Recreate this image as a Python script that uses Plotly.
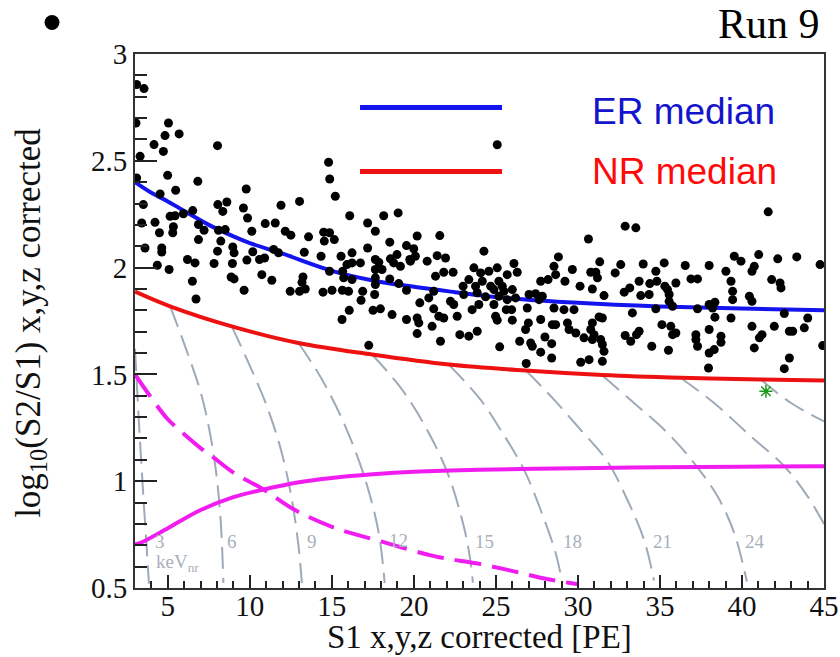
import plotly.graph_objects as go

# ---------------- data ----------------
s1_pts = [
    3.10, 3.55, 3.06, 5.04, 4.83, 5.69, 4.16, 4.73, 3.31, 8.03, 3.10, 4.99, 6.83, 5.48, 4.53, 9.78,
    14.80, 14.87, 15.21, 3.51, 8.05, 8.60, 8.35, 9.61, 9.86, 11.90, 13.03, 16.09, 18.16, 19.04,
    5.14, 5.44, 5.95, 6.52, 3.41, 4.22, 10.94, 11.55, 17.18, 25.08, 41.6,
    5.34, 5.30, 4.49, 6.87, 7.21, 8.09, 8.50, 10.12, 12.16, 12.50, 13.58, 14.50, 14.86, 14.54, 15.15,
    17.65, 20.20, 21.58, 3.61, 4.63, 4.63, 6.87, 8.23, 8.03, 8.96, 9.04, 10.18, 9.82, 10.59, 10.90,
    11.45, 11.75, 13.32, 14.34, 15.56, 16.23, 15.92, 16.23, 16.74, 17.18, 17.65, 17.86, 18.53, 19.55,
    19.99, 20.09, 19.75, 18.97, 18.57, 18.77, 19.18, 19.79, 20.81, 21.42, 21.93, 4.36, 5.08, 6.20,
    6.66, 7.82, 8.94, 10.73, 11.34, 6.50, 8.86, 9.04, 13.24, 13.18, 14.86, 15.66, 15.72, 16.23, 17.65,
    18.06, 17.65, 17.65, 19.08, 18.53, 21.32, 21.82, 22.39, 23.00, 23.35, 23.66, 6.72, 9.65, 12.46,
    13.03, 13.38, 14.46, 15.01, 15.64, 16.02, 16.88, 16.78, 17.61, 19.55, 20.36, 20.91, 21.21, 22.23,
    22.43, 23.04, 23.86, 16.06, 15.62, 17.51, 17.96, 18.67, 19.55, 20.20, 20.30, 20.20, 21.11, 21.21,
    21.52, 21.82, 22.64, 21.62, 22.80, 23.35, 23.86, 23.55, 17.25,
    32.88, 33.53, 30.64, 24.27, 44.76, 41.02, 42.18, 43.34, 39.53, 39.94, 38.00, 36.54, 35.26, 33.98,
    32.61, 31.33, 28.81, 29.66, 28.54, 28.64, 28.18, 27.73, 29.21, 30.13, 30.78, 31.09, 31.19, 30.88,
    31.59, 32.27, 32.82, 33.16, 33.73, 33.83, 34.34, 34.38, 34.75, 34.81, 35.30, 35.46, 35.56, 35.97,
    36.89, 37.29, 35.56, 35.77, 34.75, 33.32, 37.29, 38.00, 38.35, 38.21, 39.02, 39.33, 39.43, 39.43,
    40.75, 40.61, 40.45, 40.61, 41.81, 42.32, 42.38, 42.58, 44.01, 43.80, 43.09, 42.89, 41.97, 41.22,
    41.06, 40.75, 40.61, 39.33, 38.35, 38.31, 38.00, 38.00, 37.96, 37.19, 37.19, 37.29, 38.72, 38.72,
    35.97, 35.77, 35.66, 35.12, 35.52, 34.50, 33.73, 33.57, 33.22, 32.88, 31.49, 31.29, 30.88, 30.78,
    30.98, 30.88, 31.39, 31.49, 31.59, 31.49, 30.68, 30.17, 30.37, 29.87, 29.46, 29.15, 29.36, 29.76,
    28.64, 28.44, 28.54, 27.73, 26.91, 26.98, 26.81, 27.63, 27.42, 27.02, 27.83, 26.00, 26.20, 25.69,
    25.63, 24.98, 25.08, 24.88, 23.96, 25.23, 26.00, 26.45, 27.12, 27.22, 27.73, 27.99, 28.40, 28.40,
    26.85, 42.89, 42.58, 44.92, 23.76, 25.39, 25.18, 25.49, 25.69, 25.08, 24.57, 24.07, 24.17, 26.10,
    26.30, 24.68, 24.88, 25.18, 25.96, 24.37,
]
logr_pts = [
    2.857, 2.838, 2.677, 2.677, 2.618, 2.626, 2.576, 2.544, 2.521, 2.571, 2.420, 2.432, 2.404, 2.362, 2.345, 2.368,
    2.493, 2.415, 2.334, 2.295, 2.295, 2.307, 2.263, 2.279, 2.232, 2.292, 2.310, 2.243, 2.243, 2.256,
    2.240, 2.243, 2.252, 2.267, 2.209, 2.212, 2.206, 2.209, 2.209, 2.575, 2.261,
    2.191, 2.163, 2.163, 2.202, 2.175, 2.175, 2.178, 2.170, 2.170, 2.152, 2.144, 2.166, 2.163, 2.124, 2.131,
    2.170, 2.148, 2.150, 2.092, 2.092, 2.073, 2.131, 2.124, 2.077, 2.097, 2.069, 2.074, 2.035, 2.038, 2.045,
    2.085, 2.069, 2.072, 2.053, 2.053, 2.069, 2.014, 2.022, 2.022, 2.092, 2.038, 2.025, 2.119, 2.103,
    2.088, 2.053, 2.038, 2.061, 2.041, 2.022, 2.006, 2.030, 2.030, 2.056, 2.045, 2.011, 1.991, 2.038,
    2.022, 2.019, 2.019, 1.967, 1.941, 1.936, 1.956, 1.947, 1.956, 1.931, 1.983, 1.983, 1.952, 1.944, 1.991,
    1.991, 1.952, 1.921, 1.925, 1.947, 1.960, 1.978, 1.978, 1.913, 1.944, 1.999, 1.853, 1.894, 1.889,
    1.889, 1.900, 1.885, 1.894, 1.894, 1.889, 1.889, 1.847, 1.874, 1.894, 1.835, 1.858, 1.889, 1.842,
    1.827, 1.874, 1.882, 1.800, 1.757, 1.800, 1.807, 1.780, 1.757, 1.764, 1.741, 1.691, 1.725, 1.807,
    1.772, 1.764, 1.772, 1.655, 1.686, 1.679, 1.702, 1.803, 1.636,
    2.194, 2.186, 2.134, 2.077, 2.014, 2.061, 2.041, 2.050, 2.053, 2.030, 2.010, 2.010, 2.022, 2.017,
    2.014, 2.027, 2.050, 1.991, 2.006, 1.967, 1.944, 1.936, 1.936, 1.913, 1.978, 1.978, 1.952, 1.900,
    1.869, 1.975, 1.885, 1.905, 1.936, 1.869, 1.874, 1.925, 1.983, 1.936, 1.913, 1.897, 1.874, 1.928,
    1.947, 1.947, 1.842, 1.819, 1.807, 1.788, 1.807, 1.827, 1.838, 1.811, 1.983, 1.936, 1.889, 1.850,
    2.006, 1.983, 1.866, 1.842, 1.944, 1.928, 1.905, 1.785, 1.764, 1.718, 1.702, 1.702, 1.725, 1.686,
    1.671, 1.624, 1.725, 1.764, 1.768, 1.616, 1.710, 1.600, 1.530, 1.686, 1.663, 1.632, 1.679, 1.650,
    1.694, 1.686, 1.725, 1.733, 1.613, 1.632, 1.702, 1.686, 1.655, 1.682, 1.764, 1.769, 1.741, 1.710,
    1.686, 1.663, 1.663, 1.640, 1.608, 1.561, 1.569, 1.557, 1.671, 1.694, 1.710, 1.803, 1.741, 1.803,
    1.733, 1.733, 1.811, 1.757, 1.811, 1.741, 1.710, 1.850, 1.878, 1.874, 1.866, 1.897, 1.858, 1.850,
    1.803, 1.772, 1.754, 1.827, 1.827, 1.629, 1.754, 1.655, 1.647, 1.632, 1.604, 1.675, 1.644, 1.577,
    1.551, 1.577, 1.527, 1.635, 1.913, 1.913, 1.936, 1.889, 1.967, 1.999, 1.983, 1.975, 1.936, 2.019,
    1.978, 1.913, 1.897, 1.866, 1.803, 1.863,
]

er_s1 = [3, 4, 5, 6, 7.5, 9, 10, 12, 15, 17.5, 20, 22.5, 25, 30, 35, 40, 45]
er_med = [2.40, 2.35, 2.31, 2.265, 2.20, 2.146, 2.115, 2.065, 1.985, 1.94, 1.91, 1.885, 1.862, 1.835, 1.818, 1.808, 1.80]

nr_s1 = [3, 5.14, 8.9, 12.97, 17.45, 22.13, 26.8, 31.5, 36.3, 41.2, 45]
nr_med = [1.888, 1.819, 1.725, 1.647, 1.593, 1.546, 1.518, 1.497, 1.484, 1.476, 1.472]

mag_solid_s1 = [3, 3.3, 5, 7, 9, 10.9, 13, 15, 17.5, 20, 24, 30, 35, 40, 45]
mag_solid_y = [0.705, 0.71, 0.78, 0.865, 0.925, 0.962, 0.995, 1.015, 1.032, 1.044, 1.054, 1.061, 1.065, 1.068, 1.07]

mag_dash_s1 = [3, 4, 5, 6, 7, 7.8, 9, 10.8, 12.7, 15.2, 18, 21.3, 24, 26.1, 28.1, 30]
mag_dash_y = [1.50, 1.39, 1.29, 1.22, 1.155, 1.11, 1.04, 0.963, 0.867, 0.781, 0.718, 0.648, 0.613, 0.578, 0.542, 0.518]

# keVnr iso-energy contours
c3_s1 = [3.0, 3.15, 3.35, 3.55, 3.72, 3.85]
c3_y = [1.62, 1.40, 1.13, 0.88, 0.68, 0.52]
c6_s1 = [5.14, 6.05, 7.07, 7.78, 8.19, 8.39]
c6_y = [1.819, 1.632, 1.398, 1.132, 0.851, 0.523]
c9_s1 = [8.90, 9.92, 11.04, 11.95, 12.56, 12.97, 13.17]
c9_y = [1.725, 1.554, 1.351, 1.132, 0.914, 0.695, 0.523]
c12_s1 = [12.97, 14.40, 15.82, 17.04, 17.86, 18.22]
c12_y = [1.647, 1.476, 1.257, 1.007, 0.757, 0.523]
c15_s1 = [17.45, 19.28, 20.91, 22.13, 23.04, 23.4, 23.6]
c15_y = [1.593, 1.429, 1.226, 1.023, 0.789, 0.65, 0.525]
c18_s1 = [22.13, 24.06, 25.28, 26.71, 27.8, 28.64, 29.05]
c18_y = [1.546, 1.382, 1.241, 1.054, 0.851, 0.664, 0.523]
c21_s1 = [26.81, 28.54, 30.16, 31.79, 33.01, 34.03, 34.64]
c21_y = [1.520, 1.382, 1.241, 1.093, 0.913, 0.726, 0.535]
c24_s1 = [31.49, 33.42, 35.46, 37.08, 38.51, 39.53, 40.3]
c24_y = [1.495, 1.366, 1.226, 1.085, 0.929, 0.757, 0.53]
c27_s1 = [36.27, 38.3, 40.54, 42.58, 44.0, 45.0]
c27_y = [1.483, 1.366, 1.21, 1.07, 0.929, 0.80]
c30_s1 = [41.15, 42.99, 45.0]
c30_y = [1.476, 1.366, 1.28]

kev_labels = ["3", "6", "9", "12", "15", "18", "21", "24"]
kev_label_s1 = [4.53, 8.94, 13.79, 19.06, 24.31, 29.68, 35.18, 40.79]
kev_label_y = [0.718, 0.718, 0.718, 0.722, 0.718, 0.718, 0.718, 0.718]

star_s1 = [41.46]
star_y = [1.421]

# ---------------- figure ----------------
GRAY = "#9eaab8"
fig = go.Figure()

contours = [(c3_s1, c3_y), (c6_s1, c6_y), (c9_s1, c9_y), (c12_s1, c12_y), (c15_s1, c15_y),
            (c18_s1, c18_y), (c21_s1, c21_y), (c24_s1, c24_y), (c27_s1, c27_y), (c30_s1, c30_y)]
for cx, cy in contours:
    fig.add_trace(go.Scatter(x=cx, y=cy, mode="lines", line=dict(color=GRAY, width=2, dash="22px,9px", shape="spline"),
                             hoverinfo="skip", showlegend=False))

fig.add_trace(go.Scatter(x=mag_dash_s1, y=mag_dash_y, mode="lines",
                         line=dict(color="#f01cf0", width=4, dash="27px,11px", shape="spline"), showlegend=False))
fig.add_trace(go.Scatter(x=mag_solid_s1, y=mag_solid_y, mode="lines",
                         line=dict(color="#f01cf0", width=4, shape="spline"), showlegend=False))
fig.add_trace(go.Scatter(x=nr_s1, y=nr_med, mode="lines",
                         line=dict(color="#ee1111", width=4, shape="spline"), showlegend=False))
fig.add_trace(go.Scatter(x=er_s1, y=er_med, mode="lines",
                         line=dict(color="#1414ee", width=4, shape="spline"), showlegend=False))
fig.add_trace(go.Scatter(x=s1_pts, y=logr_pts, mode="markers",
                         marker=dict(color="black", size=9, line=dict(width=0)), showlegend=False))
fig.add_trace(go.Scatter(x=star_s1, y=star_y, mode="markers",
                         marker=dict(symbol="asterisk-open", color="#1a9a1a", size=11, line=dict(color="#1a9a1a", width=1.5)),
                         showlegend=False))

serif = "Liberation Serif"
ann = []
for t, x, y in zip(kev_labels, kev_label_s1, kev_label_y):
    ann.append(dict(x=x, y=y, xref="x", yref="y", text=t, showarrow=False,
                    font=dict(family=serif, size=19, color="#a8b0bc")))
ann.append(dict(x=5.62, y=0.618, xref="x", yref="y", text="keV<sub>nr</sub>", showarrow=False,
                font=dict(family=serif, size=19, color="#a8b0bc")))

# legend texts
ann.append(dict(x=0.6604, y=0.8923, xref="paper", yref="paper", text="ER median", showarrow=False,
                xanchor="left", yanchor="middle", font=dict(family="Liberation Sans", size=37, color="#1414cc")))
ann.append(dict(x=0.6604, y=0.7798, xref="paper", yref="paper", text="NR median", showarrow=False,
                xanchor="left", yanchor="middle", font=dict(family="Liberation Sans", size=37, color="#ff0a0a")))
# titles
ann.append(dict(x=0.5, y=-0.092, xref="paper", yref="paper", text="S1 x,y,z corrected [PE]", showarrow=False,
                xanchor="center", yanchor="middle", font=dict(family=serif, size=33, color="#111")))
ann.append(dict(x=-0.152, y=0.497, xref="paper", yref="paper", text="log<sub>10</sub>(S2/S1) x,y,z corrected",
                showarrow=False, textangle=-90, xanchor="center", yanchor="middle",
                font=dict(family=serif, size=35, color="#111")))
ann.append(dict(x=0.997, y=1.0553, xref="paper", yref="paper", text="Run 9", showarrow=False,
                xanchor="right", yanchor="middle", font=dict(family=serif, size=42, color="#000")))

shapes = [
    dict(type="line", xref="paper", yref="paper", x0=0.3266, x1=0.5327, y0=0.8997, y1=0.8997,
         line=dict(color="#1414ee", width=5)),
    dict(type="line", xref="paper", yref="paper", x0=0.3266, x1=0.5327, y0=0.7798, y1=0.7798,
         line=dict(color="#ee1111", width=5)),
    dict(type="circle", xref="paper", yref="paper", x0=-0.1313, x1=-0.1096, y0=1.045, y1=1.0731,
         fillcolor="black", line=dict(color="black", width=0)),
]

fig.update_layout(
    width=840, height=657,
    margin=dict(l=135, r=16, t=54, b=69, autoexpand=False),
    paper_bgcolor="white", plot_bgcolor="white",
    annotations=ann, shapes=shapes,
    xaxis=dict(range=[3, 45], dtick=5, tick0=0, showgrid=False, zeroline=False, automargin=False,
               showline=True, linecolor="#333", linewidth=2, mirror=True,
               ticks="inside", ticklen=13, tickwidth=2, tickcolor="#222", ticklabelstandoff=-9,
               tickfont=dict(family=serif, size=29, color="#111"),
               minor=dict(dtick=1, ticks="inside", ticklen=7, tickwidth=1.5, tickcolor="#222", showgrid=False)),
    yaxis=dict(range=[0.5, 3], dtick=0.5, tick0=0, showgrid=False, zeroline=False, automargin=False,
               showline=True, linecolor="#333", linewidth=2, mirror=True,
               ticks="inside", ticklen=22, tickwidth=2, tickcolor="#222",
               tickfont=dict(family=serif, size=29, color="#111"),
               minor=dict(dtick=0.1, ticks="inside", ticklen=12, tickwidth=1.5, tickcolor="#222", showgrid=False)),
)

fig.write_html("out.html", config={"displayModeBar": False},
               post_script="document.body.style.margin='0';document.body.style.overflow='hidden';")
